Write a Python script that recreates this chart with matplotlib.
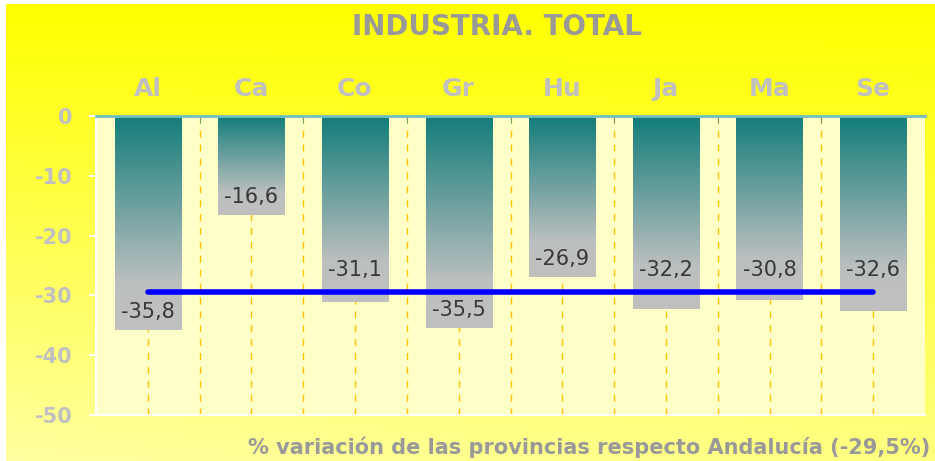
import matplotlib.pyplot as plt
import numpy as np
from matplotlib.colors import LinearSegmentedColormap

provincias = ['Al', 'Ca', 'Co', 'Gr', 'Hu', 'Ja', 'Ma', 'Se']
variacion = [-35.8, -16.6, -31.1, -35.5, -26.9, -32.2, -30.8, -32.6]
andalucia = -29.5
y_ticks = [0, -10, -20, -30, -40, -50]

fig = plt.figure(figsize=(9.35, 4.61), dpi=100)
fig.patch.set_facecolor('white')

# fondo amarillo degradado
bg = fig.add_axes([6 / 935, 0, 929 / 935, 457 / 461], zorder=-10)
yy, xx = np.mgrid[0:1:200j, 0:1:200j]
t = 0.8 * yy + 0.2 * (1 - xx) * yy
bg_cmap = LinearSegmentedColormap.from_list('bg', ['#ffff00', '#ffffa0'])
bg.imshow(t, cmap=bg_cmap, aspect='auto', extent=[0, 1, 0, 1], origin='upper', vmin=0, vmax=1)
bg.axis('off')

ax = fig.add_axes([96 / 935, 46 / 461, 829 / 935, 299 / 461])
ax.set_facecolor('#ffffc8')

x = np.arange(len(provincias))
w = 0.64

# rejilla vertical discontinua
for xv in np.arange(-0.5, len(provincias), 0.5)[1:-1]:
    ax.axvline(xv, color='#ffc000', lw=1, ls=(0, (5, 5)), zorder=1)

# barras con degradado
bar_cmap = LinearSegmentedColormap.from_list(
    'bar', [(0, '#127d7a'), (0.78, '#bcbfbf'), (1, '#c0c0c0')])
grad = np.linspace(0, 1, 256).reshape(-1, 1)
for xi, v in zip(x, variacion):
    ax.imshow(grad, cmap=bar_cmap, aspect='auto', origin='upper',
              extent=[xi - w / 2, xi + w / 2, v, 0], zorder=2)

ax.plot([x[0], x[-1]], [andalucia, andalucia], color='#0000ff', lw=4,
        solid_capstyle='round', zorder=3)

for xi, v in zip(x, variacion):
    yl = v + 3
    if abs(yl - andalucia) < 2.5:
        yl = andalucia + 3.8
    ax.text(xi, yl, f'{v:.1f}'.replace('.', ','), ha='center', va='center',
            fontsize=15, color='#383838', zorder=4)

ax.set_xlim(-0.5, len(provincias) - 0.5)
ax.set_ylim(-50, 0)

ax.xaxis.tick_top()
ax.set_xticks(x)
ax.set_xticklabels(provincias, fontsize=18, fontweight='bold', color='#c0c0c0')
ax.set_xticks(np.arange(0.5, len(provincias) - 1, 1), minor=True)
ax.tick_params(axis='x', which='major', length=0, pad=11)
ax.tick_params(axis='x', which='minor', top=True, bottom=False, direction='in',
               length=5, color='#4a9a9a')

ax.set_yticks(y_ticks)
ax.set_yticklabels([str(v) for v in y_ticks], fontsize=15, fontweight='bold', color='#c0c0c0')
ax.tick_params(axis='y', length=5, color='white', width=1.5, pad=12)

ax.spines['top'].set_color('#70c0c0')
ax.spines['top'].set_linewidth(2)
ax.spines['left'].set_color('white')
ax.spines['bottom'].set_color('white')
ax.spines['left'].set_linewidth(1.5)
ax.spines['bottom'].set_linewidth(1.5)
ax.spines['right'].set_visible(False)

fig.text(0.532, 0.942, 'INDUSTRIA. TOTAL', ha='center', va='center',
         fontsize=20, fontweight='bold', color='#999999')
fig.text(0.995, 0.03, '% variación de las provincias respecto Andalucía (-29,5%)',
         ha='right', va='center', fontsize=15, fontweight='bold', color='#999999')

fig.savefig('out.png', dpi=100)
